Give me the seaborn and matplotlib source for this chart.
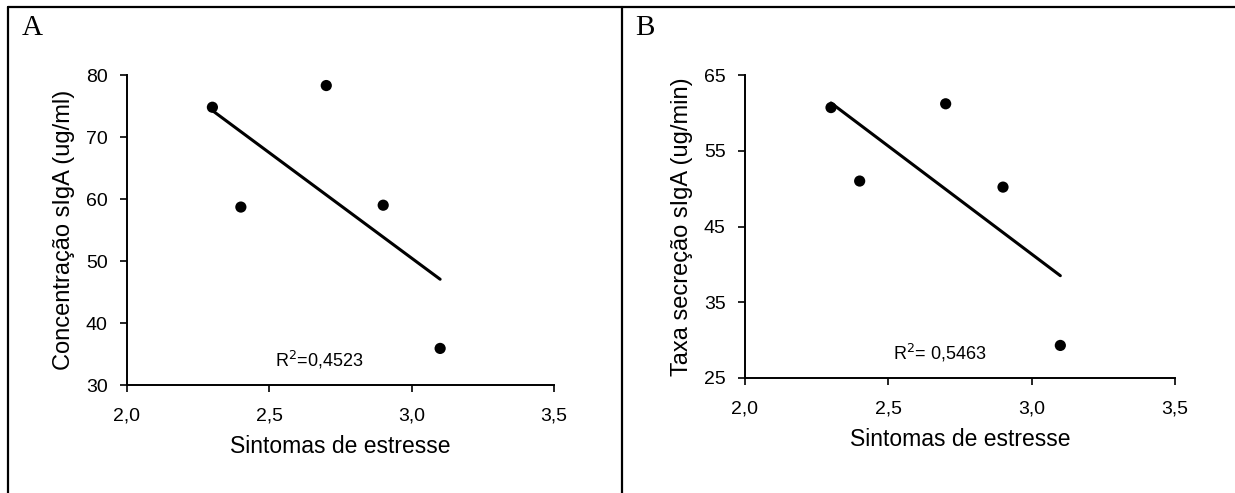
import numpy as np
import pandas as pd
import matplotlib
matplotlib.use('Agg')
import matplotlib.pyplot as plt
import seaborn as sns
from matplotlib.lines import Line2D

# Values
sintomas = [2.3, 2.4, 2.7, 2.9, 3.1]
concentracao = [74.8, 58.7, 78.3, 59.0, 35.9]
taxa_secrecao = [60.7, 51.0, 61.2, 50.2, 29.3]
r2_labels = ['R$^2$=0,4523', 'R$^2$= 0,5463']

df = pd.DataFrame({'Sintomas': sintomas,
                   'Concentracao': concentracao,
                   'Taxa': taxa_secrecao})

sns.set_style('ticks', {'text.color': 'black', 'axes.labelcolor': 'black',
                        'xtick.color': 'black', 'ytick.color': 'black',
                        'axes.edgecolor': 'black'})
plt.rcParams['font.family'] = ['Liberation Sans', 'DejaVu Sans']

fig = plt.figure(figsize=(12.35, 4.93), dpi=100)

W, H = 1235, 493
axA = fig.add_axes([127 / W, 1 - 385 / H, 427 / W, (385 - 75) / H])
axB = fig.add_axes([745 / W, 1 - 378 / H, 430 / W, (378 - 75) / H])

panels = [
    (axA, 'Concentracao', 'Concentração sIgA (ug/ml)', (30, 80), [30, 40, 50, 60, 70, 80], (2.676, 34.0), r2_labels[0]),
    (axB, 'Taxa', 'Taxa secreção sIgA (ug/min)', (25, 65), [25, 35, 45, 55, 65], (2.68, 28.3), r2_labels[1]),
]

for ax, col, ylabel, ylim, yticks, r2pos, r2txt in panels:
    sns.regplot(data=df, x='Sintomas', y=col, ax=ax, ci=None, color='black',
                scatter_kws={'s': 65, 'edgecolor': 'none', 'alpha': 1},
                line_kws={'linewidth': 2.2})
    ax.set_xlim(2.0, 3.5)
    ax.set_ylim(*ylim)
    ax.set_xticks([2.0, 2.5, 3.0, 3.5])
    ax.set_xticklabels(['2,0', '2,5', '3,0', '3,5'])
    ax.set_yticks(yticks)
    ax.tick_params(labelsize=14, length=5, width=1.2, color='black')
    ax.tick_params(axis='x', pad=11)
    ax.tick_params(axis='y', pad=9)
    ax.set_xlabel('Sintomas de estresse', fontsize=16.5, labelpad=8)
    ax.set_ylabel(ylabel, fontsize=17, labelpad=8)
    for s in ['left', 'bottom']:
        ax.spines[s].set_linewidth(1.4)
    sns.despine(ax=ax)
    ax.text(r2pos[0], r2pos[1], r2txt, fontsize=13, ha='center', va='center')

# Panel letters and table border
fig.text(22 / W, 1 - 28 / H, 'A', fontsize=21, family='Liberation Serif', va='center')
fig.text(635 / W, 1 - 28 / H, 'B', fontsize=21, family='Liberation Serif', va='center')
lw = 1.6
fig.add_artist(Line2D([8 / W, 1.0], [1 - 7 / H, 1 - 7 / H], color='black', linewidth=lw))
fig.add_artist(Line2D([8 / W, 8 / W], [0, 1 - 7 / H], color='black', linewidth=lw))
fig.add_artist(Line2D([622 / W, 622 / W], [0, 1 - 7 / H], color='black', linewidth=lw))

fig.savefig('out.png', dpi=100, facecolor='white')
